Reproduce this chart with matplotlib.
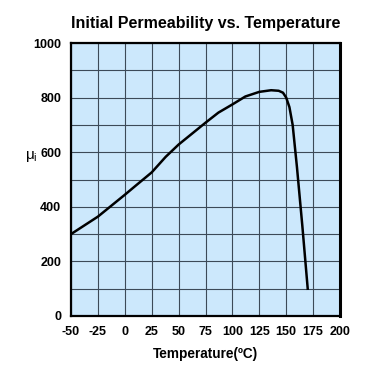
import matplotlib
matplotlib.use("Agg")
import matplotlib.pyplot as plt

plt.rcParams['font.family'] = ['Liberation Sans', 'DejaVu Sans']
plt.rcParams['axes.unicode_minus'] = False

temperature = [-50, -25, 0, 10, 25, 38, 50, 75, 87, 100, 112, 125, 136, 143, 147, 150, 153, 156, 160, 165, 170]
permeability = [300, 364, 444, 477, 526, 583, 628, 708, 745, 775, 804, 821, 827, 825, 818, 800, 765, 700, 545, 330, 100]
x_ticks = [-50, -25, 0, 25, 50, 75, 100, 125, 150, 175, 200]
y_ticks = [0, 200, 400, 600, 800, 1000]

fig = plt.figure(figsize=(3.76, 3.65), dpi=100)
ax = fig.add_axes([71/376, 1-316/365, 269/376, 273/365])
ax.set_facecolor('#cce8fc')
ax.plot(temperature, permeability, color='black', lw=1.8, zorder=3)
ax.set_xlim(-50, 200)
ax.set_ylim(0, 1000)
ax.set_xticks(x_ticks)
ax.set_yticks(y_ticks)
ax.set_yticks(range(0, 1001, 100), minor=True)
ax.grid(True, which='both', color='#3c4a58', lw=0.8)
ax.tick_params(which='both', length=0, labelsize=9, pad=7)
for lab in ax.get_xticklabels() + ax.get_yticklabels():
    lab.set_fontweight('bold')
for s in ax.spines.values():
    s.set_linewidth(1.6)
    s.set_color('black')
ax.spines['right'].set_linewidth(2.2)
ax.set_title('Initial Permeability vs. Temperature', fontsize=11.5, fontweight='bold', pad=11)
ax.set_xlabel('Temperature(ºC)', fontsize=9.8, fontweight='bold', labelpad=7)
fig.text(31/376, 1-157/365, r'μ$_\mathregular{i}$', fontsize=11, ha='center', va='center')
fig.savefig('out.png', dpi=100)
